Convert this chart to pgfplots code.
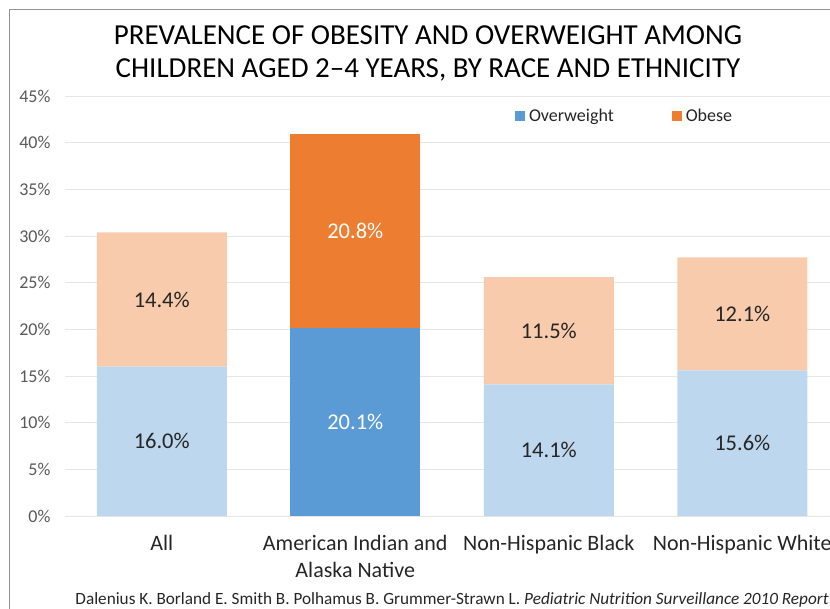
\documentclass[border=0pt]{standalone}
\usepackage{pgfplots}
\pgfplotsset{compat=1.18}
\usepackage{fontspec}
\setmainfont{Carlito}
\definecolor{ow}{HTML}{5B9BD5}
\definecolor{ob}{HTML}{ED7D31}
\definecolor{owl}{HTML}{BDD7EE}
\definecolor{obl}{HTML}{F8CBAD}
\definecolor{txt}{HTML}{262626}
\definecolor{tick}{HTML}{595959}
\definecolor{grid}{HTML}{E6E6E6}
\begin{document}
\begin{tikzpicture}[x=1pt,y=1pt]
\path[use as bounding box] (0,0) rectangle (830,609);
\draw[line width=1.2pt, color=gray!85] (9.5,-2) -- (9.5,599.5) -- (832,599.5);
\node[font=\fontsize{29}{33}\selectfont, text=black] at (428,574) {PREVALENCE OF OBESITY AND OVERWEIGHT AMONG};
\node[font=\fontsize{29}{33}\selectfont, text=black] at (428,539) {CHILDREN AGED 2–4 YEARS, BY RACE AND ETHNICITY};
\node[font=\fontsize{17.2}{20}\selectfont, text=txt] at (452,9) {Dalenius K. Borland E. Smith B. Polhamus B. Grummer-Strawn L. \textit{Pediatric Nutrition Surveillance 2010 Report}};
\begin{axis}[
  at={(65pt,93pt)}, anchor=south west, scale only axis,
  width=765pt, height=420pt,
  xmin=-0.5, xmax=3.4535, ymin=0, ymax=45,
  ybar stacked, bar width=130pt,
  axis line style={draw=none},
  major tick length=0pt,
  ytick={0,5,...,45},
  yticklabel={\pgfmathprintnumber{\tick}\%},
  /pgf/number format/assume math mode=true,
  yticklabel style={font=\fontsize{18}{21}\selectfont, text=tick, anchor=east, xshift=-11pt},
  ymajorgrids, grid style={color=grid, line width=0.9pt},
  xtick={0,1,2,3},
  xticklabels={All, {American Indian and\\Alaska Native}, Non-Hispanic Black, Non-Hispanic White},
  xticklabel style={font=\fontsize{22}{27}\selectfont, text=txt, align=center, anchor=north, yshift=-16pt},
  point meta=explicit symbolic,
  nodes near coords,
  every node near coord/.append style={anchor=center, font=\fontsize{22.5}{25}\selectfont},
  legend style={at={(rel axis cs:0.588,0.952)}, anchor=west, draw=none, fill=none,
    font=\fontsize{18}{21}\selectfont, text=txt, inner sep=0pt,
    /tikz/every even column/.append style={column sep=56pt}},
  legend columns=2,
  legend image code/.code={\fill[#1] (0pt,-5pt) rectangle (10pt,5pt);},
  clip=false
]
\addplot[forget plot, fill=owl, draw=none, every node near coord/.append style={text=txt}]
  coordinates {(0,16.0) [16.0\%] (1,0) [] (2,14.1) [14.1\%] (3,15.6) [15.6\%]};
\addplot[forget plot, fill=ow, draw=none, every node near coord/.append style={text=white}]
  coordinates {(0,0) [] (1,20.1) [20.1\%] (2,0) [] (3,0) []};
\addplot[forget plot, fill=obl, draw=none, every node near coord/.append style={text=txt}]
  coordinates {(0,14.4) [14.4\%] (1,0) [] (2,11.5) [11.5\%] (3,12.1) [12.1\%]};
\addplot[forget plot, fill=ob, draw=none, every node near coord/.append style={text=white}]
  coordinates {(0,0) [] (1,20.8) [20.8\%] (2,0) [] (3,0) []};
\addlegendimage{fill=ow, draw=none}
\addlegendentry{\hspace{2pt}Overweight}
\addlegendimage{fill=ob, draw=none}
\addlegendentry{\hspace{2pt}Obese}
\end{axis}
\end{tikzpicture}
\end{document}
